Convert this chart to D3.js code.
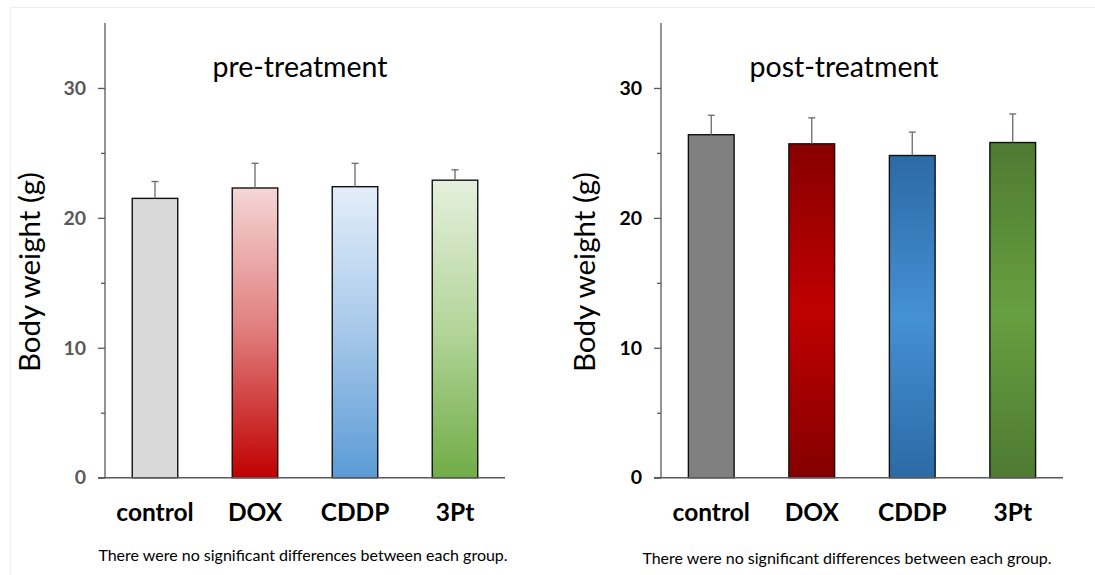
<!DOCTYPE html>
<html><head><meta charset="utf-8">
<script src="https://cdn.jsdelivr.net/npm/d3@7"></script>
<style>html,body{margin:0;padding:0;background:#fff;}svg{display:block;font-family:Lato,"Open Sans",sans-serif;}</style>
</head><body>
<svg id="c" width="1095" height="575"></svg>
<script>
const categories = ["control", "DOX", "CDDP", "3Pt"];
const preMeans = [21.5, 22.3, 22.4, 22.9];
const preErr   = [1.3, 1.9, 1.8, 0.8];
const postMeans = [26.4, 25.7, 24.8, 25.8];
const postErr   = [1.5, 2.0, 1.8, 2.2];
const majorTicks = [0, 10, 20, 30];
const minorTicks = [5, 15, 25];
const titles = ["pre-treatment", "post-treatment"];
const yTitle = "Body weight (g)";
const note = "There were no significant differences between each group.";

const svg = d3.select("#c");
const defs = svg.append("defs");

// faint frame
svg.append("line").attr("x1",10).attr("x2",1095).attr("y1",7.5).attr("y2",7.5).attr("stroke","#eeeeee");
svg.append("line").attr("x1",10.5).attr("x2",10.5).attr("y1",7).attr("y2",575).attr("stroke","#f2f2f2");

// gradients
function lin(id, stops){
  const g = defs.append("linearGradient").attr("id",id).attr("x1",0).attr("x2",0).attr("y1",0).attr("y2",1);
  stops.forEach(s=>g.append("stop").attr("offset",s[0]).attr("stop-color",s[1]));
}
lin("preCtrl",[[0,"#d9d9d9"],[1,"#d9d9d9"]]);
lin("preDox",[[0,"#f5d6d6"],[0.5,"#e07b7b"],[1,"#c00000"]]);
lin("preCddp",[[0,"#e4eef9"],[0.5,"#a6c8ea"],[1,"#5b9bd5"]]);
lin("pre3pt",[[0,"#e5f0dd"],[0.5,"#b3d59a"],[1,"#70ad47"]]);
lin("postCtrl",[[0,"#808080"],[1,"#808080"]]);
lin("postDox",[[0,"#870000"],[0.5,"#c00000"],[1,"#840000"]]);
lin("postCddp",[[0,"#2c6aa6"],[0.5,"#4590d4"],[1,"#2c6aa6"]]);
lin("post3pt",[[0,"#4e7a31"],[0.5,"#67a040"],[1,"#4e7a31"]]);

const y = d3.scaleLinear().domain([0,35]).range([477.7,23]);

const panels = [
  {x0:105, x1:505, means:preMeans, errs:preErr, fills:["preCtrl","preDox","preCddp","pre3pt"], tickColor:"#595959", title:titles[0], titleX:300, yTitleX:40, noteX:303, noteY:561},
  {x0:661, x1:1063, means:postMeans, errs:postErr, fills:["postCtrl","postDox","postCddp","post3pt"], tickColor:"#000", title:titles[1], titleX:844, yTitleX:595, noteX:847, noteY:564}
];

panels.forEach(p=>{
  const g = svg.append("g");
  const x = d3.scaleBand().domain(categories).range([p.x0,p.x1]).paddingInner(0.545).paddingOuter(0.2725);

  // bars
  g.selectAll("rect.bar").data(categories).join("rect")
    .attr("x",d=>x(d)).attr("width",x.bandwidth())
    .attr("y",(d,i)=>y(p.means[i])).attr("height",(d,i)=>y(0)-y(p.means[i]))
    .attr("fill",(d,i)=>`url(#${p.fills[i]})`)
    .attr("stroke","#111").attr("stroke-width",1.4);

  // error bars
  const cx = d=>x(d)+x.bandwidth()/2;
  g.selectAll("line.err").data(categories).join("line")
    .attr("x1",cx).attr("x2",cx)
    .attr("y1",(d,i)=>y(p.means[i])).attr("y2",(d,i)=>y(p.means[i]+p.errs[i]))
    .attr("stroke","#6a6a6a").attr("stroke-width",1.3);
  g.selectAll("line.cap").data(categories).join("line")
    .attr("x1",d=>cx(d)-3.5).attr("x2",d=>cx(d)+3.5)
    .attr("y1",(d,i)=>y(p.means[i]+p.errs[i])).attr("y2",(d,i)=>y(p.means[i]+p.errs[i]))
    .attr("stroke","#6a6a6a").attr("stroke-width",1.3);

  // y axis
  const ya = g.append("g").attr("transform",`translate(${p.x0},0)`)
    .call(d3.axisLeft(y).tickValues(majorTicks).tickSize(7).tickPadding(12).tickFormat(d3.format("d")));
  ya.select(".domain").remove();
  ya.selectAll(".tick line").attr("stroke","#595959").attr("stroke-width",1.3);
  ya.selectAll(".tick text").attr("fill",p.tickColor).attr("font-family","Lato, sans-serif")
    .attr("font-weight","bold").attr("font-size",19.5);
  const ym = g.append("g").attr("transform",`translate(${p.x0},0)`)
    .call(d3.axisLeft(y).tickValues(minorTicks).tickSize(4).tickFormat(""));
  ym.select(".domain").remove();
  ym.selectAll(".tick line").attr("stroke","#595959").attr("stroke-width",1.3);
  g.append("line").attr("x1",p.x0).attr("x2",p.x0).attr("y1",y(35)).attr("y2",y(0))
    .attr("stroke","#595959").attr("stroke-width",1.3);

  // x axis
  g.append("line").attr("x1",p.x0-7).attr("x2",p.x1).attr("y1",y(0)).attr("y2",y(0))
    .attr("stroke","#595959").attr("stroke-width",1.6);
  g.selectAll("text.xl").data(categories).join("text")
    .attr("x",cx).attr("y",521).attr("text-anchor","middle")
    .attr("font-weight","bold").attr("font-size",24.5).attr("fill","#000").text(d=>d);

  // title
  g.append("text").attr("x",p.titleX).attr("y",77).attr("text-anchor","middle")
    .attr("font-size",28.5).attr("fill","#000").text(p.title);

  // y title
  g.append("text").attr("transform",`translate(${p.yTitleX},272) rotate(-90)`)
    .attr("text-anchor","middle").attr("font-size",29.5).attr("fill","#000").text(yTitle);

  // note
  g.append("text").attr("x",p.noteX).attr("y",p.noteY).attr("text-anchor","middle")
    .attr("font-size",16).attr("fill","#000").text(note);
});
</script>
</body></html>
